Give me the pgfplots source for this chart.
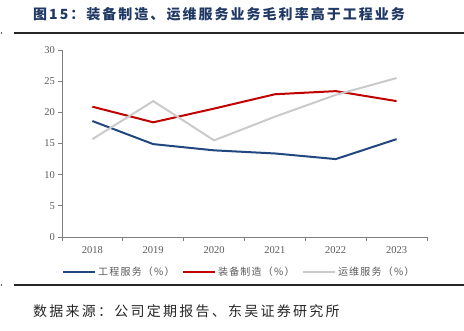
\documentclass[border=0pt]{standalone}
\usepackage{fontspec}
\usepackage{pgfplots}
\pgfplotsset{compat=1.18}
\setmainfont{Liberation Serif}
\newfontfamily\cjk{Noto Sans CJK SC}
\newfontfamily\cjkspaced{Noto Sans CJK SC}[LetterSpace=12]
\newfontfamily\cjktitle{Noto Sans CJK SC}[LetterSpace=14.5]
\newfontfamily\cjksource{Noto Sans CJK SC}[LetterSpace=16]
\definecolor{cblue}{HTML}{22477F}
\definecolor{cred}{HTML}{C00000}
\definecolor{cgray}{HTML}{CACACA}
\definecolor{ctitle}{HTML}{1F3864}
\definecolor{caxis}{HTML}{7F7F7F}
\definecolor{ctext}{HTML}{595959}
\begin{document}
\begin{tikzpicture}
\useasboundingbox (0pt,0pt) rectangle (464pt,331pt);
\node[anchor=west, inner sep=0pt, text=ctitle, font={\cjktitle\bfseries\fontsize{14}{16}\selectfont}] at (33pt,317pt) {图15：装备制造、运维服务业务毛利率高于工程业务};
\draw[line width=1.4pt, black!85] (14pt,298pt) -- (464pt,298pt);
\fill[black!70] (1.5pt,298pt) circle (0.8pt);
\begin{axis}[
  at={(62pt,94pt)}, anchor=south west,
  scale only axis, width=365pt, height=187pt,
  xmin=-0.5, xmax=5.5, ymin=0, ymax=30,
  axis x line=bottom, axis y line=left,
  axis line style={draw=caxis, line width=0.8pt, -},
  xtick={0,...,5},
  xticklabels={2018,2019,2020,2021,2022,2023},
  minor xtick={-0.5,0.5,...,5.5},
  major x tick style={draw=none},
  minor x tick style={draw=caxis, line width=0.8pt},
  ytick={0,5,...,30},
  y tick style={draw=caxis, line width=0.8pt},
  tick align=outside,
  major tick length=3.5pt, minor tick length=4pt,
  /pgf/number format/assume math mode=true,
  ticklabel style={font=\fontsize{10.5}{12}\selectfont, text=ctext},
  xticklabel style={yshift=-2pt},
  legend columns=3,
  legend style={at={(0,-0.14)}, anchor=north west, draw=none, fill=none,
    font={\cjkspaced\fontsize{10}{12}\selectfont}, text=ctext,
    /tikz/every even column/.append style={column sep=5.5pt},
    inner xsep=0pt},
  legend image code/.code={\draw[#1] (0pt,0pt) -- (32pt,0pt);},
  clip=false,
]
\addplot[cblue, line width=2pt] coordinates {(0,18.6) (1,14.9) (2,13.9) (3,13.4) (4,12.5) (5,15.7)};
\addlegendentry{工程服务（\%）}
\addplot[cred, line width=2pt] coordinates {(0,20.9) (1,18.4) (2,20.6) (3,22.9) (4,23.4) (5,21.8)};
\addlegendentry{装备制造（\%）}
\addplot[cgray, line width=2pt] coordinates {(0,15.7) (1,21.8) (2,15.5) (3,19.3) (4,22.8) (5,25.5)};
\addlegendentry{运维服务（\%）}
\end{axis}
\draw[line width=1.8pt, black!85] (14pt,46pt) -- (464pt,46pt);
\fill[black!70] (1.5pt,46pt) circle (0.8pt);
\node[anchor=west, inner sep=0pt, text=black!85, font={\cjksource\fontsize{14}{16}\selectfont}] at (33pt,20pt) {数据来源：公司定期报告、东吴证券研究所};
\end{tikzpicture}
\end{document}
